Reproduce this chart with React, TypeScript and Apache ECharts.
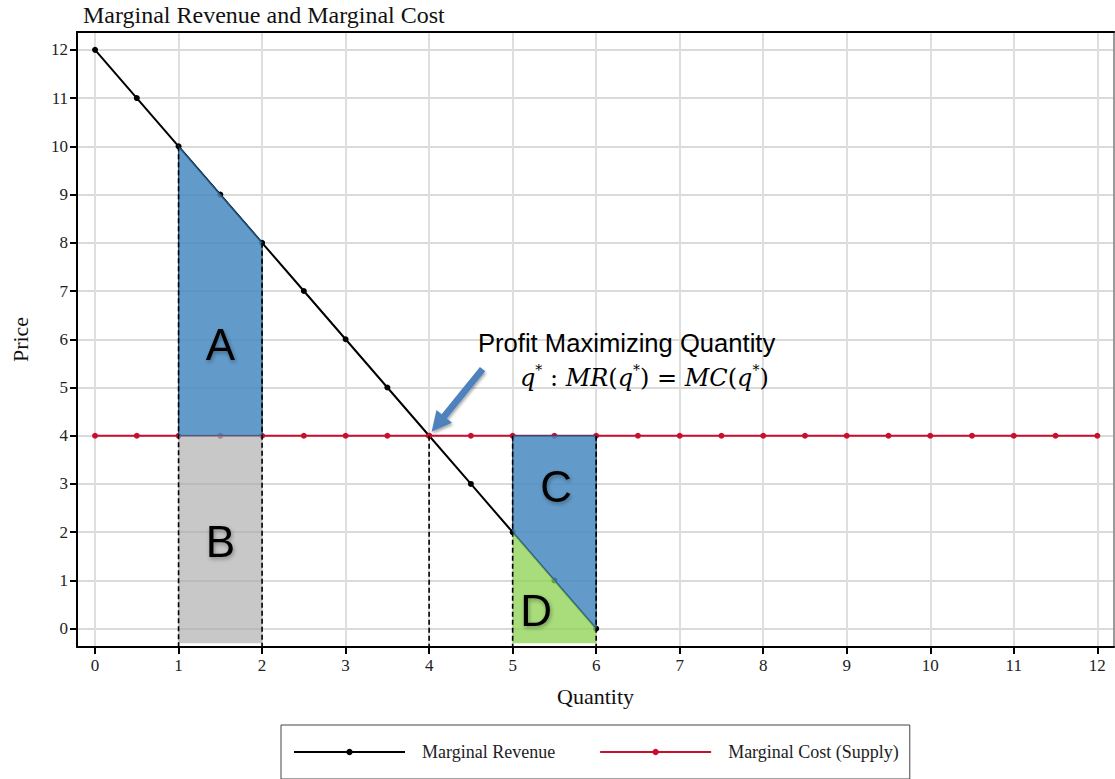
import React, { useEffect, useRef } from "react";
import * as echarts from "echarts";

const mrQuantity = [0, 0.5, 1, 1.5, 2, 2.5, 3, 3.5, 4, 4.5, 5, 5.5, 6];
const mrPrice = [12, 11, 10, 9, 8, 7, 6, 5, 4, 3, 2, 1, 0];
const mcQuantity = [0, 0.5, 1, 1.5, 2, 2.5, 3, 3.5, 4, 4.5, 5, 5.5, 6, 6.5, 7, 7.5, 8, 8.5, 9, 9.5, 10, 10.5, 11, 11.5, 12];
const mcPrice = [4, 4, 4, 4, 4, 4, 4, 4, 4, 4, 4, 4, 4, 4, 4, 4, 4, 4, 4, 4, 4, 4, 4, 4, 4];
const xTicks = [0, 1, 2, 3, 4, 5, 6, 7, 8, 9, 10, 11, 12];
const yTicks = [0, 1, 2, 3, 4, 5, 6, 7, 8, 9, 10, 11, 12];

const areaA = [[1, 10], [2, 8], [2, 4], [1, 4]];
const areaB = [[1, 4], [2, 4], [2, -0.3], [1, -0.3]];
const areaC = [[5, 4], [6, 4], [6, 0], [5, 2]];
const areaD = [[5, 2], [6, 0], [6, -0.3], [5, -0.3]];
const dashedTops = [[1, 10], [2, 8], [4, 4], [5, 4], [6, 4]];
const areaLetters = ["A", "B", "C", "D"];
const letterPos = [[1.5, 5.9], [1.5, 1.8], [5.52, 2.95], [5.28, 0.37]];
const arrowPts = [[4.64, 5.38], [4.03, 4.08]];

const X_MIN = -0.216;
const X_MAX = 12.2;
const Y_MIN = -0.38;
const Y_MAX = 12.37;

const SERIF = "'Liberation Serif', 'Times New Roman', serif";
const MATH = "'DejaVu Serif', serif";
const SANS = "'Liberation Sans', Arial, sans-serif";

function polygonSeries(name: string, pts: number[][], fill: string, stroke: string) {
  return {
    type: "custom",
    name,
    coordinateSystem: "cartesian2d",
    z: 3,
    silent: true,
    data: pts,
    renderItem: (params: any, api: any) => {
      if (params.dataIndex !== 0) return null;
      const points = pts.map((p) => api.coord(p));
      return {
        type: "polygon",
        shape: { points },
        style: { fill, stroke, lineWidth: 1.2 },
      };
    },
  };
}

export default function App() {
  const ref = useRef<HTMLDivElement>(null);
  useEffect(() => {
    if (!ref.current) return;
    const chart = echarts.init(ref.current, undefined, { renderer: "svg" });
    const axisLabelStyle = { fontFamily: SERIF, fontSize: 17, color: "#222" };
    const option: any = {
      animation: false,
      backgroundColor: "#fff",
      title: {
        text: "Marginal Revenue and Marginal Cost",
        left: 83,
        top: 3,
        padding: 0,
        textStyle: { fontFamily: SERIF, fontSize: 24, fontWeight: "normal", color: "#111" },
      },
      grid: { left: 77, top: 32, right: 1, bottom: 132, containLabel: false, outerBoundsMode: "none" },
      legend: {
        left: 281,
        top: 725,
        data: ["Marginal Revenue", "Marginal Cost (Supply)"],
        itemWidth: 111,
        itemHeight: 8,
        itemGap: 44,
        borderColor: "#444",
        borderWidth: 1,
        padding: [18, 11, 18, 12],
        textStyle: { fontFamily: SERIF, fontSize: 18, color: "#222", padding: [0, 0, 0, 12] },
      },
      xAxis: [
        {
          type: "value",
          min: X_MIN,
          max: X_MAX,
          name: "Quantity",
          nameLocation: "middle",
          nameGap: 38,
          nameTextStyle: { fontFamily: SERIF, fontSize: 22, color: "#111" },
          axisLine: { show: true, onZero: false, lineStyle: { color: "#000", width: 2 } },
          axisTick: { show: true, length: 7, lineStyle: { color: "#000", width: 2 }, customValues: xTicks },
          axisLabel: { ...axisLabelStyle, margin: 10, customValues: xTicks },
          splitLine: { show: true, lineStyle: { color: "#dedede", width: 2 } },
        },
        {
          type: "value",
          position: "top",
          min: X_MIN,
          max: X_MAX,
          axisLine: { show: true, onZero: false, lineStyle: { color: "#000", width: 2 } },
          axisTick: { show: false },
          axisLabel: { show: false },
          splitLine: { show: false },
        },
      ],
      yAxis: [
        {
          type: "value",
          min: Y_MIN,
          max: Y_MAX,
          name: "Price",
          nameLocation: "middle",
          nameGap: 46,
          nameTextStyle: { fontFamily: SERIF, fontSize: 22, color: "#111" },
          axisLine: { show: true, onZero: false, lineStyle: { color: "#000", width: 2 } },
          axisTick: { show: true, length: 7, lineStyle: { color: "#000", width: 2 }, customValues: yTicks },
          axisLabel: { ...axisLabelStyle, margin: 9, customValues: yTicks },
          splitLine: { show: true, lineStyle: { color: "#dadada", width: 2 } },
        },
        {
          type: "value",
          position: "right",
          min: Y_MIN,
          max: Y_MAX,
          axisLine: { show: true, onZero: false, lineStyle: { color: "#999", width: 2 } },
          axisTick: { show: false },
          axisLabel: { show: false },
          splitLine: { show: false },
        },
      ],
      series: [
        {
          type: "line",
          name: "Marginal Revenue",
          z: 2,
          data: mrQuantity.map((q, i) => [q, mrPrice[i]]),
          symbol: "circle",
          symbolSize: 6,
          showAllSymbol: true,
          lineStyle: { color: "#000", width: 2 },
          itemStyle: { color: "#000" },
        },
        {
          type: "line",
          name: "Marginal Cost (Supply)",
          z: 2,
          data: mcQuantity.map((q, i) => [q, mcPrice[i]]),
          symbol: "circle",
          symbolSize: 6,
          showAllSymbol: true,
          lineStyle: { color: "#c8102e", width: 2 },
          itemStyle: { color: "#c8102e" },
        },
        polygonSeries("A", areaA, "rgba(70,137,193,0.85)", "#1f4e79"),
        polygonSeries("B", areaB, "rgba(170,170,170,0.65)", "rgba(0,0,0,0)"),
        polygonSeries("C", areaC, "rgba(70,137,193,0.85)", "#1f4e79"),
        polygonSeries("D", areaD, "rgba(140,210,80,0.75)", "rgba(0,0,0,0)"),
        {
          type: "custom",
          name: "dashed",
          coordinateSystem: "cartesian2d",
          z: 4,
          silent: true,
          data: dashedTops,
          renderItem: (params: any, api: any) => {
            const top = api.coord([api.value(0), api.value(1)]);
            const bot = api.coord([api.value(0), Y_MIN]);
            return {
              type: "line",
              shape: { x1: top[0], y1: top[1], x2: bot[0], y2: bot[1] },
              style: { stroke: "#000", lineWidth: 1.6, lineDash: [5, 3] },
            };
          },
        },
        {
          type: "custom",
          name: "letters",
          coordinateSystem: "cartesian2d",
          z: 5,
          silent: true,
          data: letterPos,
          renderItem: (params: any, api: any) => {
            const p = api.coord([api.value(0), api.value(1)]);
            return {
              type: "text",
              x: p[0],
              y: p[1],
              style: {
                text: areaLetters[params.dataIndex],
                fill: "#000",
                fontFamily: SANS,
                fontSize: 44,
                align: "center",
                verticalAlign: "middle",
                textShadowColor: "rgba(0,0,0,0.35)",
                textShadowBlur: 4,
                textShadowOffsetX: 1,
                textShadowOffsetY: 2,
              },
            };
          },
        },
        {
          type: "custom",
          name: "arrow",
          coordinateSystem: "cartesian2d",
          z: 6,
          silent: true,
          data: arrowPts,
          renderItem: (params: any, api: any) => {
            if (params.dataIndex !== 0) return null;
            const a = api.coord(arrowPts[0]);
            const b = api.coord(arrowPts[1]);
            const dx = b[0] - a[0];
            const dy = b[1] - a[1];
            const len = Math.sqrt(dx * dx + dy * dy);
            const ux = dx / len;
            const uy = dy / len;
            const nx = -uy;
            const ny = ux;
            const head = 20;
            const hw = 10;
            const sw = 3.4;
            const hb = [b[0] - ux * head, b[1] - uy * head];
            const points = [
              [a[0] + nx * sw, a[1] + ny * sw],
              [hb[0] + nx * sw, hb[1] + ny * sw],
              [hb[0] + nx * hw, hb[1] + ny * hw],
              [b[0], b[1]],
              [hb[0] - nx * hw, hb[1] - ny * hw],
              [hb[0] - nx * sw, hb[1] - ny * sw],
              [a[0] - nx * sw, a[1] - ny * sw],
            ];
            return {
              type: "polygon",
              shape: { points },
              style: {
                fill: "#4f81bd",
                shadowColor: "rgba(0,0,0,0.35)",
                shadowBlur: 3,
                shadowOffsetX: 1,
                shadowOffsetY: 2,
              },
            };
          },
        },
      ],
      graphic: [
        {
          type: "text",
          x: 478,
          y: 343,
          z: 10,
          style: {
            text: "Profit Maximizing Quantity",
            fill: "#000",
            fontFamily: SANS,
            fontSize: 25.6,
            verticalAlign: "middle",
          },
        },
        {
          type: "text",
          x: 520,
          y: 378,
          z: 10,
          style: {
            text: "{i|q}{s|*}{n| : }{i|MR}{n|(}{i|q}{s|*}{n|) = }{i|MC}{n|(}{i|q}{s|*}{n|)}",
            verticalAlign: "middle",
            fill: "#000",
            rich: {
              i: { fontFamily: MATH, fontStyle: "italic", fontSize: 24, fill: "#000", color: "#000" },
              n: { fontFamily: MATH, fontSize: 24, fill: "#000", color: "#000" },
              s: { fontFamily: MATH, fontSize: 14, fill: "#000", color: "#000", padding: [0, 0, 16, 0] },
            },
          },
        },
      ],
    };
    chart.setOption(option);
    return () => chart.dispose();
  }, []);
  return <div ref={ref} style={{ width: 1115, height: 779, position: "absolute", left: 0, top: 0 }} />;
}
